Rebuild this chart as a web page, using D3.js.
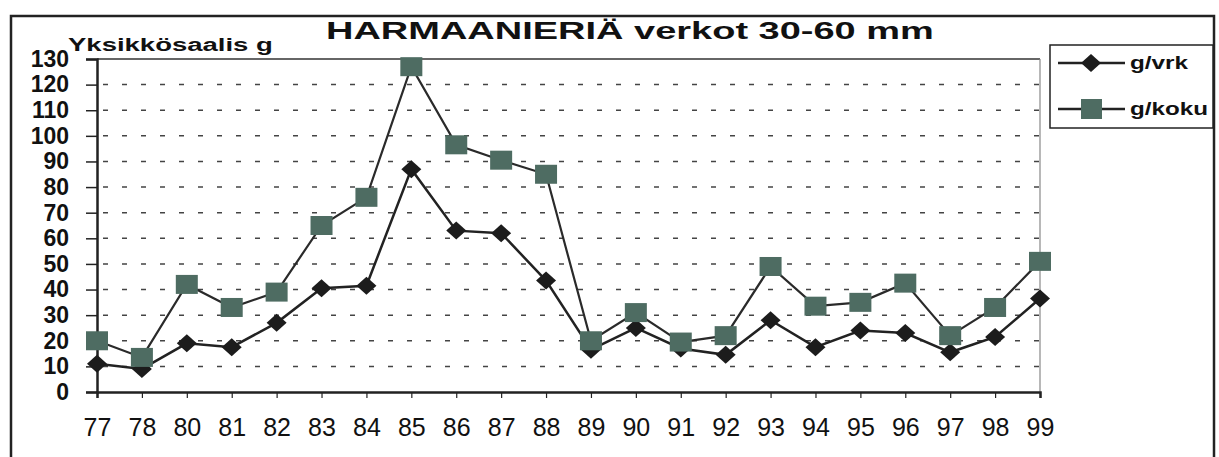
<!DOCTYPE html>
<html lang="fi">
<head>
<meta charset="UTF-8">
<title>HARMAANIERIÄ verkot 30-60 mm</title>
<script src="https://cdn.jsdelivr.net/npm/d3@7"></script>
<style>
  body { margin: 0; background: #fff; }
  svg { display: block; font-family: "Liberation Sans", Arial, sans-serif; }
</style>
</head>
<body>
<svg id="chart" width="1219" height="457"></svg>
<script>
// data
var years = ["77","78","80","81","82","83","84","85","86","87","88","89","90","91","92","93","94","95","96","97","98","99"];
var gVrk  = [11, 9, 19, 17.5, 27, 40.5, 41.5, 87, 63, 62, 43.5, 16.5, 25, 17, 14.5, 28, 17.5, 24, 23, 15.5, 21.5, 36.5];
var gKoku = [20, 13.5, 42, 33, 39, 65, 76, 127, 96.5, 90.5, 85, 20, 31, 19.5, 22, 49, 33.5, 35, 42.5, 22, 33, 51];
var yTicks = d3.range(0, 131, 10);

var svg = d3.select("#chart");
var margin = { left: 97, right: 179, top: 59, bottom: 65 };
var W = 1219, H = 457;

var x = d3.scalePoint().domain(years).range([margin.left, W - margin.right]);
var y = d3.scaleLinear().domain([0, 130]).range([H - margin.bottom, margin.top]);

// old scan uses a wide grotesque, so stretch text to the measured width
function wideText(g, txt, left, base, size, width) {
  var t = g.append("text")
    .attr("font-size", size).attr("font-weight", "bold").attr("fill", "#111")
    .text(txt);
  var w = t.node().getComputedTextLength();
  t.attr("transform", "translate(" + left + "," + base + ") scale(" + (width / w) + ",1)");
  return t;
}

// outer frame
svg.append("rect")
  .attr("x", 11).attr("y", 16).attr("width", 1203).attr("height", 443)
  .attr("fill", "none").attr("stroke", "#222").attr("stroke-width", 2.5);

// plot frame top + right
svg.append("line")
  .attr("x1", margin.left).attr("x2", W - margin.right)
  .attr("y1", margin.top).attr("y2", margin.top)
  .attr("stroke", "#333").attr("stroke-width", 1.5);
svg.append("line")
  .attr("x1", W - margin.right).attr("x2", W - margin.right)
  .attr("y1", margin.top).attr("y2", y(0))
  .attr("stroke", "#888").attr("stroke-width", 1.2);

// dashed grid
svg.append("g").selectAll("line")
  .data(yTicks.filter(function (d) { return d > 0 && d < 130; }))
  .enter().append("line")
  .attr("x1", margin.left + 6).attr("x2", W - margin.right)
  .attr("y1", function (d) { return y(d); })
  .attr("y2", function (d) { return y(d); })
  .attr("stroke", "#444").attr("stroke-width", 1.5)
  .attr("stroke-dasharray", "5,14");

// y axis
var yAxis = svg.append("g")
  .attr("transform", "translate(" + margin.left + ",0)")
  .call(d3.axisLeft(y).tickValues(yTicks).tickSize(11).tickPadding(17));
yAxis.select(".domain").attr("stroke", "#222").attr("stroke-width", 2.5);
yAxis.selectAll(".tick line").attr("stroke", "#222").attr("stroke-width", 1.5);
yAxis.selectAll("text").attr("font-size", 23).attr("fill", "#111").attr("font-weight", "bold");

// x axis
var xAxis = svg.append("g")
  .attr("transform", "translate(0," + y(0) + ")")
  .call(d3.axisBottom(x).tickSize(6).tickPadding(20));
xAxis.select(".domain").attr("stroke", "#222").attr("stroke-width", 2.5);
xAxis.selectAll(".tick line").attr("stroke", "#222").attr("stroke-width", 1.2);
xAxis.selectAll("text").attr("font-size", 25).attr("fill", "#111");

var line = d3.line()
  .x(function (d, i) { return x(years[i]); })
  .y(function (d) { return y(d); });

// g/vrk
svg.append("path").datum(gVrk).attr("d", line)
  .attr("fill", "none").attr("stroke", "#222").attr("stroke-width", 2.5);
svg.append("g").selectAll("path").data(gVrk).enter().append("path")
  .attr("d", "M0,-9L10,0L0,9L-10,0Z")
  .attr("transform", function (d, i) { return "translate(" + x(years[i]) + "," + y(d) + ")"; })
  .attr("fill", "#1c1c1c");

// g/koku
svg.append("path").datum(gKoku).attr("d", line)
  .attr("fill", "none").attr("stroke", "#2a2a2a").attr("stroke-width", 2.2);
svg.append("g").selectAll("rect").data(gKoku).enter().append("rect")
  .attr("x", function (d, i) { return x(years[i]) - 11; })
  .attr("y", function (d) { return y(d) - 9.5; })
  .attr("width", 22).attr("height", 19)
  .attr("fill", "#4e6c62");

// title + y label
wideText(svg, "HARMAANIERIÄ verkot 30-60 mm", 326, 39, 24, 608);
wideText(svg, "Yksikkösaalis g", 68, 51, 19, 205);

// legend
var lg = svg.append("g");
lg.append("rect")
  .attr("x", 1050).attr("y", 45).attr("width", 163).attr("height", 83)
  .attr("fill", "#fff").attr("stroke", "#222").attr("stroke-width", 1.5);
var items = [
  { name: "g/vrk", y: 63, w: 58 },
  { name: "g/koku", y: 109, w: 78 }
];
items.forEach(function (it, i) {
  lg.append("line")
    .attr("x1", 1058).attr("x2", 1125).attr("y1", it.y).attr("y2", it.y)
    .attr("stroke", "#222").attr("stroke-width", 2.5);
  if (i === 0) {
    lg.append("path").attr("d", "M0,-9L10,0L0,9L-10,0Z")
      .attr("transform", "translate(1091," + it.y + ")").attr("fill", "#1c1c1c");
  } else {
    lg.append("rect").attr("x", 1081).attr("y", it.y - 10).attr("width", 21).attr("height", 20)
      .attr("fill", "#4e6c62");
  }
  wideText(lg, it.name, 1130, it.y + 6, 18, it.w);
});
</script>
</body>
</html>
